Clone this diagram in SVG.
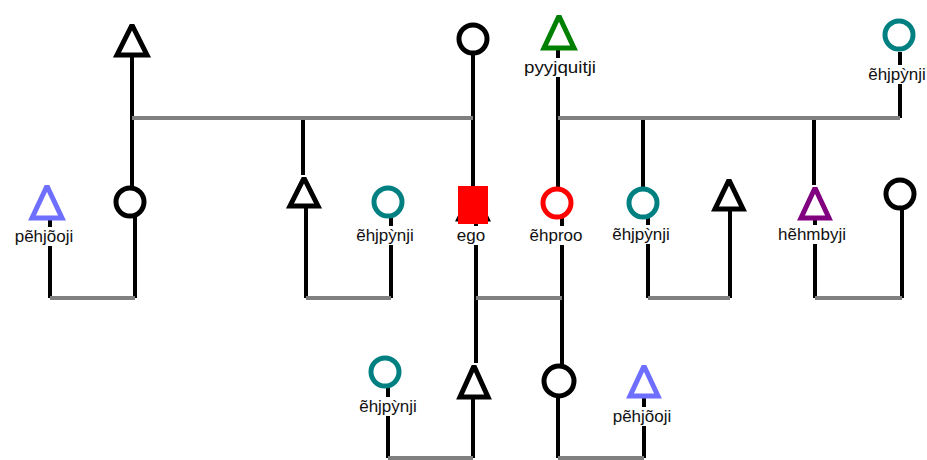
<svg xmlns="http://www.w3.org/2000/svg" width="927" height="460" viewBox="0 0 927 460">
  <defs>
    <style>
      .line { stroke: #000; stroke-width: 4; fill: none; }
      .bar { stroke: #808080; stroke-width: 4; fill: none; }
      .node { fill: #fff; stroke-width: 5; stroke-linejoin: miter; stroke-miterlimit: 2; }
      .black { stroke: #000; }
      .teal { stroke: #008080; }
      .green { stroke: #008000; }
      .blue { stroke: #6f6fff; }
      .purple { stroke: #800080; }
      .red { stroke: #ff0000; }
      .label { font-family: "Liberation Sans", Arial, sans-serif; font-size: 17px; fill: #111; text-anchor: middle; }
      .lbg { fill: #fff; }
    </style>
  </defs>
  <rect width="927" height="460" fill="#fff"/>

  <g id="connectors">
    <!-- descent and sibling lines -->
    <path class="line" d="M132 57V187 M303 118V175 M473 55V186 M558 50V188 M643 118V189 M814 118V185 M900 52V118"/>
    <path class="line" d="M50 220V298 M135 217V298 M306 208V298 M391 217V298 M476 222V363 M562 218V366 M648 218V298 M730 211V298 M815 220V298 M902 209V298"/>
    <path class="line" d="M388 387V458 M473 399V458 M558 397V458 M644 398V458"/>
    <!-- marriage / sibling bars -->
    <path class="bar" d="M132 118H473 M558 118H900"/>
    <path class="bar" d="M50 298H135 M306 298H391 M476 298H562 M648 298H730 M815 298H902"/>
    <path class="bar" d="M388 458H473 M558 458H644"/>
  </g>

  <g id="n-top-father"><polygon class="node black" points="132,25 117,55 147,55"/></g>
  <g id="n-top-mother"><circle class="node black" cx="473" cy="39" r="14"/></g>
  <g id="n-pyyjquitji">
    <polygon class="node green" points="559,16 544,48 574,48"/>
    <rect class="lbg" x="522" y="58" width="76" height="19"/>
    <text class="label" x="560" y="73" textLength="72" lengthAdjust="spacingAndGlyphs">pyyjquitji</text>
  </g>
  <g id="n-top-ehjpynji">
    <circle class="node teal" cx="899" cy="35" r="14"/>
    <rect class="lbg" x="866" y="65" width="62" height="19"/>
    <text class="label" x="897" y="80">ẽhjpỳnji</text>
  </g>

  <g id="n-pehjooji-1">
    <polygon class="node blue" points="47,186 32,218 62,218"/>
    <rect class="lbg" x="13" y="227" width="63" height="19"/>
    <text class="label" x="44" y="242">pẽhjõoji</text>
  </g>
  <g id="n-mid-mother"><circle class="node black" cx="130" cy="202" r="14"/></g>
  <g id="n-mid-uncle"><polygon class="node black" points="304,178 290,206 318,206"/></g>
  <g id="n-ehjpynji-1">
    <circle class="node teal" cx="388" cy="202" r="14"/>
    <rect class="lbg" x="354" y="226" width="62" height="19"/>
    <text class="label" x="385" y="241">ẽhjpỳnji</text>
  </g>
  <g id="n-ego">
    <polygon class="node black" points="473,190 459,219 487,219"/>
    <rect x="458" y="186" width="30" height="38" fill="#ff0000"/>
    <rect class="lbg" x="455" y="226" width="32" height="19"/>
    <text class="label" x="471" y="241">ego</text>
  </g>
  <g id="n-ehproo">
    <circle class="node red" cx="557" cy="203" r="14"/>
    <rect class="lbg" x="527" y="226" width="58" height="19"/>
    <text class="label" x="556" y="241">ẽhproo</text>
  </g>
  <g id="n-ehjpynji-2">
    <circle class="node teal" cx="643" cy="203" r="14"/>
    <rect class="lbg" x="610" y="225" width="62" height="19"/>
    <text class="label" x="641" y="240">ẽhjpỳnji</text>
  </g>
  <g id="n-mid-brother"><polygon class="node black" points="729,180 715,209 743,209"/></g>
  <g id="n-hehmbyji">
    <polygon class="node purple" points="815,188 801,218 829,218"/>
    <rect class="lbg" x="776" y="225" width="72" height="19"/>
    <text class="label" x="812" y="240">hẽhmbyji</text>
  </g>
  <g id="n-mid-sister"><circle class="node black" cx="900" cy="194" r="14"/></g>

  <g id="n-ehjpynji-3">
    <circle class="node teal" cx="385" cy="372" r="14"/>
    <rect class="lbg" x="357" y="397" width="62" height="19"/>
    <text class="label" x="388" y="412">ẽhjpỳnji</text>
  </g>
  <g id="n-son"><polygon class="node black" points="474,366 460,397 488,397"/></g>
  <g id="n-daughter"><circle class="node black" cx="559" cy="381" r="15"/></g>
  <g id="n-pehjooji-2">
    <polygon class="node blue" points="644,366 630,396 658,396"/>
    <rect class="lbg" x="611" y="407" width="63" height="19"/>
    <text class="label" x="642" y="422">pẽhjõoji</text>
  </g>
</svg>
